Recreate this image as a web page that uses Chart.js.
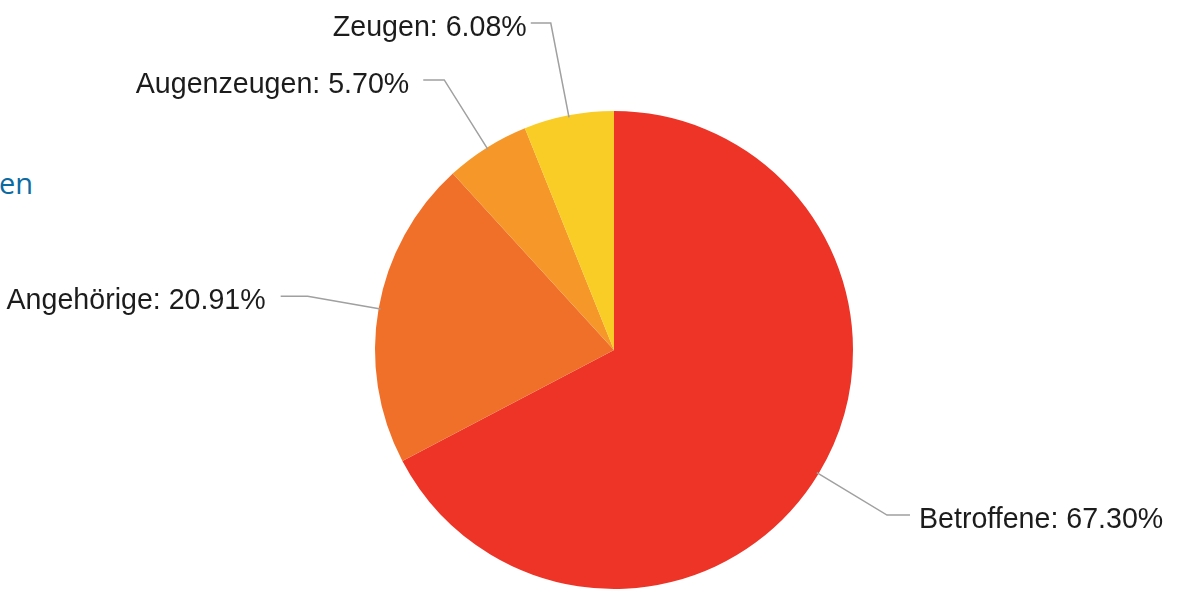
<!DOCTYPE html>
<html>
<head>
<meta charset="utf-8">
<script src="https://cdn.jsdelivr.net/npm/chart.js@4"></script>
<style>
  html, body { margin: 0; padding: 0; background: #fff; }
  #wrap { position: relative; width: 1184px; height: 593px; overflow: hidden; }
  #side { position: absolute; left: -1px; top: 163px; font-family: "Open Sans", "Noto Sans", sans-serif; font-size: 29px; color: #0b6aa2; }
  canvas { position: absolute; left: 0; top: 0; }
</style>
</head>
<body>
<div id="wrap">
  <div id="side">en</div>
  <canvas id="c" width="1184" height="593"></canvas>
</div>
<script>
const categories = ["Betroffene", "Angehörige", "Augenzeugen", "Zeugen"];
const shares = [67.30, 20.91, 5.70, 6.08];
const colors = ["#ee3427", "#f0702a", "#f6972a", "#f9cd25"];

const leaderPlugin = {
  id: 'leaders',
  afterDatasetsDraw(chart, args, opts) {
    const ctx = chart.ctx;
    const meta = chart.getDatasetMeta(0);
    ctx.save();
    ctx.font = '28.6px "Liberation Sans", Arial, sans-serif';
    ctx.textBaseline = 'middle';
    meta.data.forEach((arc, i) => {
      const p = arc.getProps(['x', 'y', 'startAngle', 'endAngle', 'outerRadius'], true);
      const mid = (p.startAngle + p.endAngle) / 2;
      const cx = Math.cos(mid), sy = Math.sin(mid);
      const r0 = p.outerRadius - 2;
      const r1 = p.outerRadius + opts.ext[i];
      const x0 = p.x + cx * r0, y0 = p.y + sy * r0;
      const x1 = p.x + cx * r1, y1 = p.y + sy * r1;
      const dir = cx >= 0 ? 1 : -1;
      const x2 = x1 + dir * opts.hlen[i];
      ctx.strokeStyle = '#a0a0a0';
      ctx.lineWidth = 1.5;
      ctx.beginPath();
      ctx.moveTo(x0, y0);
      ctx.lineTo(x1, y1);
      ctx.lineTo(x2, y1);
      ctx.stroke();
      ctx.fillStyle = '#1c1c1c';
      ctx.textAlign = dir > 0 ? 'left' : 'right';
      const label = chart.data.labels[i] + ': ' + chart.data.datasets[0].data[i].toFixed(2) + '%';
      ctx.fillText(label, x2 + dir * opts.gap[i], y1 + 5);
    });
    ctx.restore();
  }
};

new Chart(document.getElementById('c'), {
  type: 'pie',
  data: {
    labels: categories,
    datasets: [{
      data: shares,
      backgroundColor: colors,
      borderWidth: 0
    }]
  },
  options: {
    responsive: false,
    animation: false,
    layout: { padding: { left: 375, right: 331, top: 111, bottom: 4 } },
    plugins: {
      legend: { display: false },
      tooltip: { enabled: false },
      leaders: {
        ext: [80, 72, 80, 94],
        hlen: [23, 27, 21, 20],
        gap: [9, 15, 14, 4]
      }
    }
  },
  plugins: [leaderPlugin]
});
</script>
</body>
</html>
